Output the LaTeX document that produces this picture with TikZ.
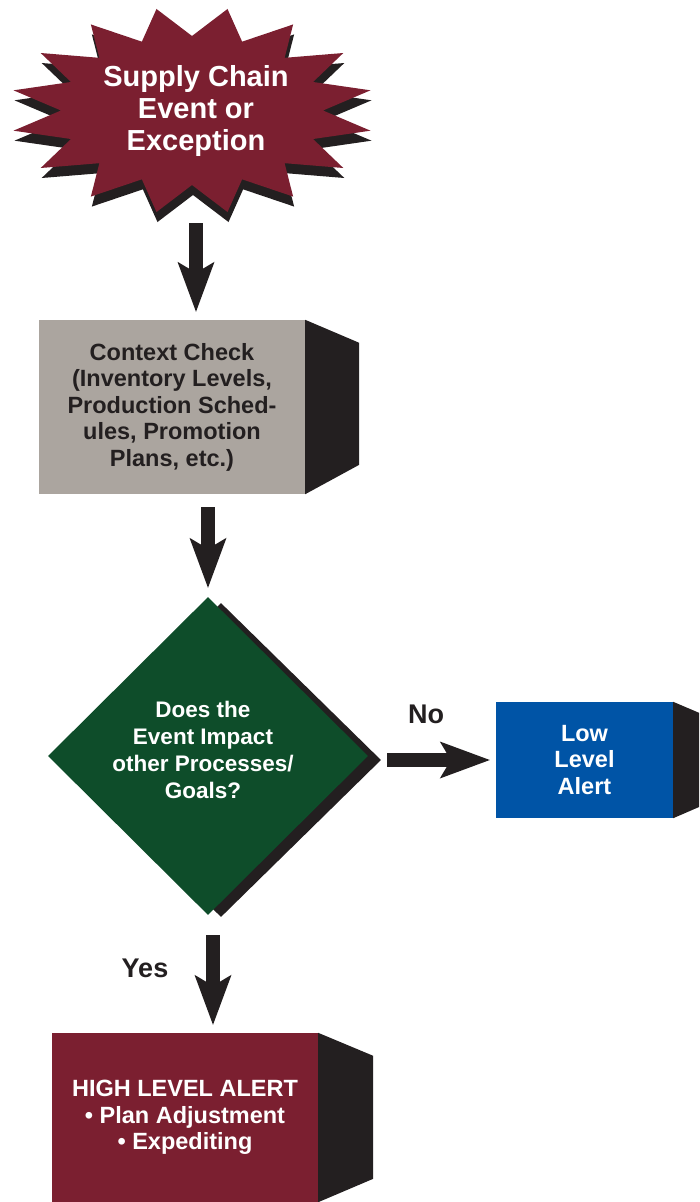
\documentclass[tikz,border=0pt]{standalone}
\usepackage{fontspec}
\setmainfont{Liberation Sans}
\usetikzlibrary{arrows.meta,shapes.geometric}
\definecolor{maroon}{RGB}{123,31,48}
\definecolor{stone}{RGB}{171,165,159}
\definecolor{forest}{RGB}{14,77,42}
\definecolor{royal}{RGB}{0,84,166}
\definecolor{ink}{RGB}{35,31,32}
\begin{document}
\begin{tikzpicture}[x=1pt,y=-1pt,
  card/.style={rectangle, inner sep=0pt, align=center, text=white},
  bigtext/.style={font=\bfseries\fontsize{29}{31.5}\selectfont},
  boxtext/.style={font=\bfseries\fontsize{23.5}{26.5}\selectfont},
  qtext/.style={font=\bfseries\fontsize{22.5}{27}\selectfont},
  answer/.style={font=\bfseries\fontsize{27}{30}\selectfont, text=ink, anchor=base},
  sidewall/.style={fill=ink},
  flow/.style={draw=ink, line width=14pt,
    -{Stealth[length=50pt,width=37pt,inset=11pt,line width=0pt]}}]
\useasboundingbox (0,0) rectangle (699,1202);
\clip (0,0) rectangle (699,1202);

% starburst with drop shadow
\begin{scope}[shift={(192,110.5)}]
  \fill[ink, shift={(1,10)}] (11.25:182 and 103.5)
    \foreach \k in {1,...,16}{ -- ({22.5*\k}:131 and 74.5) -- ({22.5*\k+11.25}:182 and 103.5) } -- cycle;
  \fill[maroon] (11.25:182 and 103.5)
    \foreach \k in {1,...,16}{ -- ({22.5*\k}:131 and 74.5) -- ({22.5*\k+11.25}:182 and 103.5) } -- cycle;
\end{scope}
\node[bigtext, text=white, align=center, inner sep=0pt, minimum height=208pt] (star) at (196,111)
  {Supply Chain\\Event or\\Exception};

% context check box
\node[card, boxtext, fill=stone, text=ink, minimum width=266pt, minimum height=174pt] (ctx) at (172,407)
  {Context Check\\(Inventory Levels,\\Production Sched-\\ules, Promotion\\Plans, etc.)};
\fill[sidewall] (ctx.north east) -- ++(54,23) -- ++(0,122) -- (ctx.south east) -- cycle;

% decision diamond
\node[diamond, fill=ink, minimum width=320pt, minimum height=314pt, inner sep=0pt] (diashade) at (221,760) {};
\node[diamond, fill=forest, minimum width=320pt, minimum height=318pt, inner sep=0pt] (dia) at (208,756) {};
\node[qtext, text=white, align=center, inner sep=0pt] (diatext) at (203,749.5)
  {Does the\\Event Impact\\other Processes/\\Goals?};

% low level alert
\node[card, boxtext, fill=royal, minimum width=177pt, minimum height=116pt] (low) at (584.5,760)
  {Low\\Level\\Alert};
\fill[sidewall] (low.north east) -- ++(54,23) -- ++(0,70) -- (low.south east) -- cycle;

% high level alert
\node[card, boxtext, fill=maroon, minimum width=266pt, minimum height=169pt] (high) at (185,1117.5)
  {HIGH LEVEL ALERT\\• Plan Adjustment\\• Expediting};
\fill[sidewall] (high.north east) -- ++(55,23) -- ++(0,123) -- (high.south east) -- cycle;

% connectors
\draw[flow, shorten <=8pt, shorten >=8pt] (star.south) -- (star.south |- ctx.north);
\draw[flow, shorten <=13pt, shorten >=9pt] (dia.north |- ctx.south) -- (dia.north);
\draw[flow, shorten <=19pt, shorten >=6pt] (dia.east |- low.west) -- (low.west);
\draw[flow, shorten <=20pt, shorten >=8pt] ([xshift=5pt]dia.south) -- ([xshift=5pt]dia.south |- high.north);

% branch labels
\node[answer] (no) at (426,723) {No};
\node[answer] (yes) at (145,977) {Yes};
\end{tikzpicture}
\end{document}
